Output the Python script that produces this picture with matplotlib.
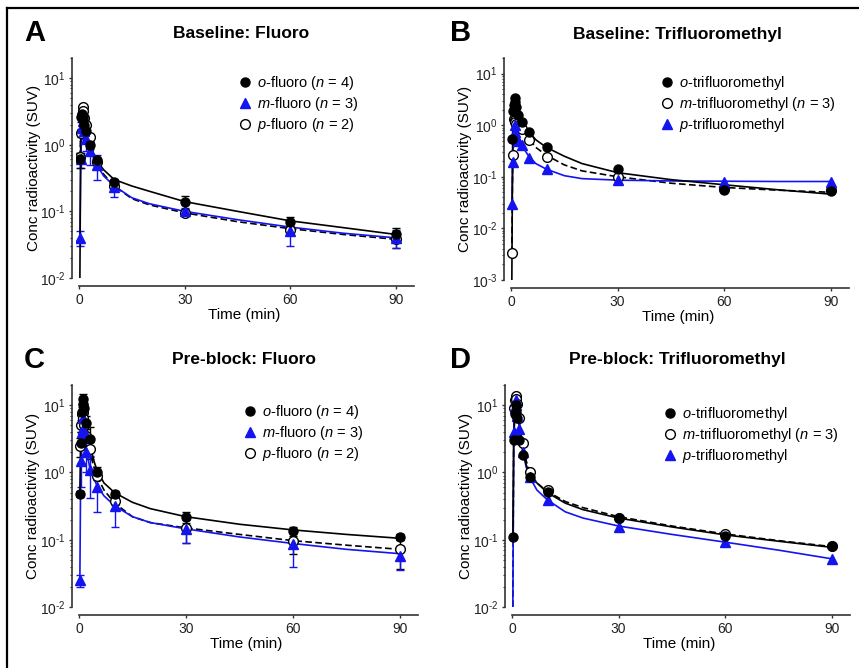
import matplotlib
matplotlib.use('Agg')
import matplotlib.pyplot as plt
import numpy as np
from matplotlib.lines import Line2D
from matplotlib.ticker import LogLocator, NullLocator, FuncFormatter

plt.rcParams['font.family'] = ['Liberation Sans', 'DejaVu Sans']
plt.rcParams['mathtext.fontset'] = 'custom'
plt.rcParams['mathtext.rm'] = 'Liberation Sans'
plt.rcParams['mathtext.it'] = 'Liberation Sans:italic'
plt.rcParams['mathtext.bf'] = 'Liberation Sans:bold'

W, H = 859, 668
BLUE = '#1414f0'
AX_COLOR = '#333333'

# sampling times (min)
times = [0.25, 0.5, 0.75, 1, 1.25, 1.5, 2, 3, 5, 10, 30, 60, 90]
fit_times = [0.25, 0.5, 0.75, 1, 1.5, 2, 3, 4, 5, 7, 10, 15, 20, 30, 45, 60, 75, 90]

# ---- A: baseline fluoro ----
a_ortho = [0.6, 2.6, 2.9, 2.7, 2.4, 2.0, 1.6, 1.0, 0.58, 0.28, 0.14, 0.07, 0.046]
a_ortho_err = [0.15, 0.4, 0.4, 0.4, 0.3, 0.3, 0.2, 0.15, 0.05, 0.03, 0.03, 0.013, 0.011]
a_meta = [0.04, 0.6, 1.8, 2.3, 2.0, 1.6, 1.2, 0.8, 0.5, 0.23, 0.1, 0.05, 0.04]
a_meta_err = [0.01, 0.15, 0.5, 0.5, 0.5, 0.4, 0.4, 0.3, 0.2, 0.065, 0.012, 0.02, 0.012]
a_para = [0.65, 1.5, 2.7, 3.7, 3.2, 2.5, 2.0, 1.3, 0.55, 0.24, 0.095, 0.052, 0.038]
a_para_err = [0.1, 0.2, 0.3, 0.3, 0.3, 0.2, 0.2, 0.1, 0.05, 0.03, 0.01, 0.008, 0.01]
a_ortho_fit = [0.01, 2.0, 2.6, 2.8, 2.3, 1.8, 1.1, 0.75, 0.58, 0.42, 0.3, 0.24, 0.2, 0.14, 0.1, 0.072, 0.057, 0.045]
a_meta_fit = [0.04, 0.6, 1.5, 2.3, 2.0, 1.5, 0.95, 0.65, 0.5, 0.34, 0.24, 0.16, 0.13, 0.1, 0.075, 0.058, 0.047, 0.04]
a_para_fit = [0.65, 1.5, 2.7, 3.7, 3.0, 2.3, 1.3, 0.8, 0.58, 0.36, 0.24, 0.155, 0.125, 0.095, 0.07, 0.055, 0.045, 0.038]

# ---- B: baseline trifluoromethyl ----
b_ortho = [0.55, 1.9, 2.5, 3.3, 2.8, 2.2, 1.6, 1.15, 0.75, 0.37, 0.14, 0.056, 0.053]
b_meta = [0.0033, 0.27, 1.3, 1.25, 1.15, 1.05, 0.95, 0.85, 0.52, 0.24, 0.097, 0.058, 0.055]
b_para = [0.03, 0.19, 0.6, 1.0, 0.75, 0.6, 0.5, 0.42, 0.23, 0.14, 0.086, 0.08, 0.08]
b_ortho_fit = [0.001, 1.0, 2.5, 3.2, 2.6, 2.0, 1.2, 0.9, 0.75, 0.52, 0.37, 0.25, 0.18, 0.12, 0.088, 0.07, 0.056, 0.046]
b_meta_fit = [0.0033, 0.3, 1.1, 1.3, 1.2, 1.1, 1.0, 0.75, 0.55, 0.37, 0.26, 0.17, 0.13, 0.1, 0.075, 0.062, 0.055, 0.05]
b_para_fit = [0.03, 0.19, 0.6, 1.05, 0.75, 0.6, 0.45, 0.32, 0.25, 0.18, 0.14, 0.105, 0.092, 0.086, 0.083, 0.082, 0.081, 0.081]

# ---- C: pre-block fluoro ----
c_ortho = [0.48, 2.7, 8.0, 12.5, 10.5, 9.0, 5.4, 3.2, 1.0, 0.48, 0.22, 0.135, 0.11]
c_ortho_err = [0.05, 1.3, 2.0, 2.0, 2.0, 1.5, 1.5, 1.5, 0.2, 0.05, 0.04, 0.02, 0.01]
c_meta = [0.025, 1.5, 4.0, 6.5, 4.5, 3.5, 2.0, 1.1, 0.6, 0.32, 0.145, 0.087, 0.058]
c_meta_err = [0.005, 0.9, 1.5, 2.0, 1.5, 1.3, 1.0, 0.68, 0.34, 0.165, 0.055, 0.047, 0.023]
c_para = [2.5, 5.0, 7.5, 8.0, 6.5, 5.0, 3.5, 2.2, 0.88, 0.38, 0.15, 0.097, 0.072]
c_para_err = [0.8, 1.0, 2.0, 2.0, 1.5, 1.5, 1.0, 0.6, 0.1, 0.05, 0.06, 0.035, 0.035]
c_ortho_fit = [0.48, 3.0, 8.0, 12.0, 9.0, 5.5, 2.8, 1.6, 1.1, 0.7, 0.5, 0.36, 0.29, 0.22, 0.17, 0.14, 0.12, 0.105]
c_meta_fit = [0.025, 1.5, 3.0, 6.5, 4.0, 2.3, 1.2, 0.85, 0.65, 0.45, 0.32, 0.22, 0.18, 0.145, 0.11, 0.088, 0.072, 0.062]
c_para_fit = [2.5, 5.0, 7.0, 8.0, 6.0, 4.0, 2.2, 1.3, 0.9, 0.55, 0.35, 0.22, 0.18, 0.15, 0.12, 0.097, 0.083, 0.072]

# ---- D: pre-block trifluoromethyl ----
d_ortho = [0.11, 3.0, 7.5, 10.0, 8.0, 6.5, 3.0, 1.8, 0.85, 0.52, 0.21, 0.115, 0.08]
d_meta = [np.nan, 9.0, 12.0, 13.5, 12.5, 10.5, 6.5, 2.7, 1.0, 0.55, 0.21, 0.123, 0.08]
d_para = [np.nan, 4.0, 9.0, 12.0, 10.0, 7.0, 4.5, 2.0, 0.85, 0.39, 0.155, 0.092, 0.052]
d_ortho_fit = [0.11, 3.0, 6.0, 9.0, 9.5, 6.0, 2.2, 1.3, 0.95, 0.7, 0.5, 0.35, 0.28, 0.21, 0.155, 0.118, 0.095, 0.077]
d_meta_fit = [0.01, 4.0, 8.0, 13.0, 11.0, 7.0, 2.6, 1.5, 1.0, 0.7, 0.52, 0.37, 0.3, 0.22, 0.16, 0.122, 0.097, 0.079]
d_para_fit = [0.01, 4.0, 8.0, 12.0, 9.0, 5.0, 2.2, 1.2, 0.85, 0.55, 0.39, 0.26, 0.21, 0.16, 0.12, 0.092, 0.07, 0.052]

fluoro_labels = [r'$\it{o}$-fluoro ($\it{n}$ = 4)', r'$\it{m}$-fluoro ($\it{n}$ = 3)',
                 r'$\it{p}$-fluoro ($\it{n}$ = 2)']
cf3_labels = [r'$\it{o}$-trifluoromethyl', r'$\it{m}$-trifluoromethyl ($\it{n}$ = 3)',
              r'$\it{p}$-trifluoromethyl']

fig = plt.figure(figsize=(W / 100, H / 100), dpi=100)


def px_axes(left, right, top, bottom):
    return fig.add_axes([left / W, 1 - bottom / H, (right - left) / W, (bottom - top) / H])


def pow10_label(v, pos):
    e = int(round(np.log10(v)))
    if e < 0:
        return '10$^{\u2010' + str(-e) + '}$'
    return '10$^{' + str(e) + '}$'


ortho_style = dict(marker='o', color='black', mfc='black', mec='black', ms=6.5, ls='none')
blue_tri = dict(marker='^', color=BLUE, mfc=BLUE, mec=BLUE, ms=6.5, ls='none')
open_circ = dict(marker='o', color='black', mfc='white', mec='black', mew=1.0, ms=7, ls='none')


def draw_panel(ax, ymin, series, legend_labels, legend_order, legend_xy):
    # series: list of (values, err, fit, point_style, line_kw)
    for vals, err, fit, pstyle, lkw in series:
        if err is not None:
            ax.errorbar(times, vals, yerr=err, fmt='none', ecolor=pstyle['color'],
                        elinewidth=1.0, capsize=3, capthick=1.0, zorder=2)
    for vals, err, fit, pstyle, lkw in series:
        ax.plot(fit_times, fit, zorder=3, **lkw)
    for vals, err, fit, pstyle, lkw in series:
        ax.plot(times, vals, zorder=4, **pstyle)

    ax.set_yscale('log')
    ax.set_ylim(ymin, 20)
    ax.set_xlim(-1, 95)
    ax.set_xticks([0, 30, 60, 90])
    ax.yaxis.set_major_locator(LogLocator(base=10, numticks=10))
    ax.yaxis.set_major_formatter(FuncFormatter(pow10_label))
    ax.yaxis.set_minor_locator(LogLocator(base=10, subs=np.arange(2, 10), numticks=10))
    ax.xaxis.set_minor_locator(NullLocator())
    for s in ['top', 'right']:
        ax.spines[s].set_visible(False)
    ax.spines['left'].set_position(('outward', 2.5))
    ax.spines['bottom'].set_position(('outward', 6))
    ax.spines['bottom'].set_bounds(0, 95)
    for s in ['left', 'bottom']:
        ax.spines[s].set_color(AX_COLOR)
        ax.spines[s].set_linewidth(1.2)
    ax.tick_params(axis='both', which='major', length=2.5, width=1, color=AX_COLOR,
                   labelsize=10, labelcolor='#222222', pad=2)
    ax.tick_params(axis='y', which='minor', length=1.5, width=0.8, color=AX_COLOR)
    ax.set_xlabel('Time (min)', fontsize=11, labelpad=1)
    ax.set_ylabel('Conc radioactivity (SUV)', fontsize=11)
    ax.yaxis.set_label_coords(-0.103, 0.5)
    ax.patch.set_alpha(0)

    handles = []
    for i in legend_order:
        pstyle = series[i][3]
        handles.append(Line2D([], [], **pstyle))
    ax.legend(handles, legend_labels, loc='upper left',
              bbox_to_anchor=(legend_xy[0] / W, 1 - legend_xy[1] / H),
              bbox_transform=fig.transFigure, frameon=False, fontsize=10.5,
              handlelength=1.0, handletextpad=0.3, labelspacing=0.22,
              borderpad=0, borderaxespad=0)


solid_k = dict(color='black', lw=1.2, ls='-')
dash_k = dict(color='black', lw=1.2, ls=(0, (4, 2)))
solid_b = dict(color=BLUE, lw=1.2, ls='-')

# A
axA = px_axes(75.5, 413.6, 58, 278)
draw_panel(axA, 0.01, [
    (a_para, a_para_err, a_para_fit, open_circ, dash_k),
    (a_meta, a_meta_err, a_meta_fit, blue_tri, solid_b),
    (a_ortho, a_ortho_err, a_ortho_fit, ortho_style, solid_k),
], fluoro_labels, [2, 1, 0], (238, 74))

# B
axB = px_axes(507.4, 848.8, 58, 280)
draw_panel(axB, 0.001, [
    (b_meta, None, b_meta_fit, open_circ, dash_k),
    (b_para, None, b_para_fit, blue_tri, solid_b),
    (b_ortho, None, b_ortho_fit, ortho_style, solid_k),
], cf3_labels, [2, 0, 1], (660, 74))

# C
axC = px_axes(75.4, 417.9, 385, 607)
draw_panel(axC, 0.01, [
    (c_para, c_para_err, c_para_fit, open_circ, dash_k),
    (c_meta, c_meta_err, c_meta_fit, blue_tri, solid_b),
    (c_ortho, c_ortho_err, c_ortho_fit, ortho_style, solid_k),
], fluoro_labels, [2, 1, 0], (243, 403))

# D
axD = px_axes(508.4, 849.8, 385, 607)
draw_panel(axD, 0.01, [
    (d_meta, None, d_meta_fit, open_circ, dash_k),
    (d_para, None, d_para_fit, blue_tri, solid_b),
    (d_ortho, None, d_ortho_fit, ortho_style, solid_k),
], cf3_labels, [2, 0, 1], (663, 405))

# titles and panel letters
for letter, lx, ly, title, tx, ty in [
    ('A', 24, 33, 'Baseline: Fluoro', 241, 34),
    ('B', 450, 33, 'Baseline: Trifluoromethyl', 677, 34),
    ('C', 24, 360, 'Pre-block: Fluoro', 244, 359),
    ('D', 450, 360, 'Pre-block: Trifluoromethyl', 677, 359),
]:
    fig.text(lx / W, 1 - ly / H, letter, fontsize=21, fontweight='bold', ha='left', va='center')
    fig.text(tx / W, 1 - ty / H, title, fontsize=12.5, fontweight='bold', ha='center', va='center')

# outer frame (top and left edges)
fig.add_artist(Line2D([7 / W, 1], [1 - 8 / H, 1 - 8 / H], color='black', lw=1.6,
                      transform=fig.transFigure))
fig.add_artist(Line2D([7 / W, 7 / W], [0, 1 - 8 / H], color='black', lw=1.6,
                      transform=fig.transFigure))

fig.savefig('out.png', dpi=100)
